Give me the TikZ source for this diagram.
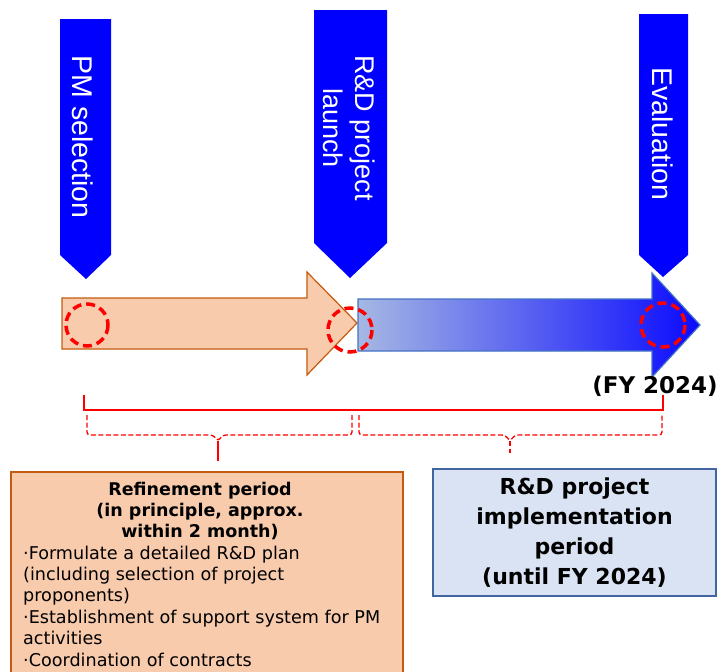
\documentclass[tikz,border=0pt]{standalone}
\usepackage{fontspec}
\setmainfont{DejaVu Sans}
\newfontfamily\bannerfont{Liberation Sans}
\definecolor{bannerblue}{HTML}{0000FF}
\definecolor{orfill}{HTML}{F8CBAD}
\definecolor{ordraw}{HTML}{C55A11}
\definecolor{blight}{HTML}{A6B8E3}
\definecolor{bdark}{HTML}{0A0AFF}
\definecolor{bedge}{HTML}{4472C4}
\definecolor{bboxfill}{HTML}{DAE3F3}
\definecolor{bboxdraw}{HTML}{41659F}
\begin{document}
\begin{tikzpicture}[x=1pt,y=-1pt,
  banner/.style={fill=bannerblue, draw=none},
  bannertext/.style={rotate=-90, text=white, inner sep=0pt, font=\bannerfont\fontsize{28.5}{32}\selectfont},
  mark circle/.style={draw=red, line width=3.5pt, dash pattern=on 9pt off 5pt},
  solidbracket/.style={draw=red, line width=1.5pt},
  dashbrace/.style={draw=red, line width=1.3pt, dash pattern=on 5pt off 2.5pt, rounded corners=3pt},
  orangebox/.style={draw=ordraw, fill=orfill, line width=1.5pt, inner sep=0pt},
  bluebox/.style={draw=bboxdraw, fill=bboxfill, line width=1.5pt, inner sep=0pt}]
\useasboundingbox (0,0) rectangle (723,672);
\clip (0,0) rectangle (723,672);

% arrows
\draw[fill=orfill, draw=ordraw, line width=1.2pt] (62,298) -- (307,298) -- (307,272) -- (357,323) -- (307,375) -- (307,349) -- (62,349) -- cycle;
\draw[left color=blight, right color=bdark, draw=bedge, line width=1.2pt] (358,299) -- (652,299) -- (652,273) -- (700,325) -- (652,377) -- (652,351) -- (358,351) -- cycle;

% banners
\fill[banner] (60,19) -- (111,19) -- (111,255) -- (86,279) -- (60,255) -- cycle;
\fill[banner] (314,10) -- (387,10) -- (387,243) -- (350,278) -- (314,243) -- cycle;
\fill[banner] (639,14) -- (688,14) -- (688,255) -- (663,277) -- (639,255) -- cycle;
\node[bannertext] (pm) at (83,137) {PM selection};
\node[bannertext, align=center, font=\bannerfont\fontsize{27}{32}\selectfont] (launch) at (349,128) {R\&D project\\launch};
\node[bannertext] (eval) at (662.5,134) {Evaluation};

% dashed red circles
\draw[mark circle] (87,325) circle (21);
\draw[mark circle] (350,330) circle (22);
\draw[mark circle] (663,325) circle (22);

% brackets
\draw[solidbracket] (84,395) -- (84,410) -- (663,410) -- (663,395);
\draw[dashbrace] (87,415) -- (87,435) -- (213,435) -- (218,441) -- (223,435) -- (352,435) -- (352,415);
\draw[dashbrace] (359,415) -- (359,435) -- (505,435) -- (510,441) -- (515,435) -- (662,435) -- (662,415);
\coordinate (tipA) at (218,441);
\coordinate (tipB) at (510,441);
\coordinate (stemA) at (218,461);
\coordinate (stemB) at (510,453);
\draw[red, line width=1.4pt] (tipA) -- (stemA);
\draw[red, line width=1.3pt, dash pattern=on 5pt off 2.5pt] (tipB) -- (stemB);

\node[font=\bfseries\fontsize{23}{28}\selectfont] (fy) at (655,386) {(FY 2024)};

% bottom boxes
\node[orangebox, anchor=north west, minimum width=392pt, minimum height=230pt] (refbox) at (10,471) {};
\node[font=\bfseries\fontsize{17.5}{21}\selectfont, align=center, anchor=base, inner sep=0pt] (reftitle) at (200,537) {Refinement period\\(in principle, approx.\\within 2 month)};
\node[font=\fontsize{17.6}{21.4}\selectfont, align=left, anchor=base west, inner sep=0pt] (refbody) at (23,666) {·Formulate a detailed R\&D plan\\(including selection of project\\proponents)\\·Establishment of support system for PM\\activities\\·Coordination of contracts};

\node[bluebox, minimum width=283pt, minimum height=127pt, align=center, font=\bfseries\fontsize{22}{30}\selectfont] (implbox) at (574.5,532.5) {R\&D project\\implementation\\period\\(until FY 2024)};
\end{tikzpicture}
\end{document}
